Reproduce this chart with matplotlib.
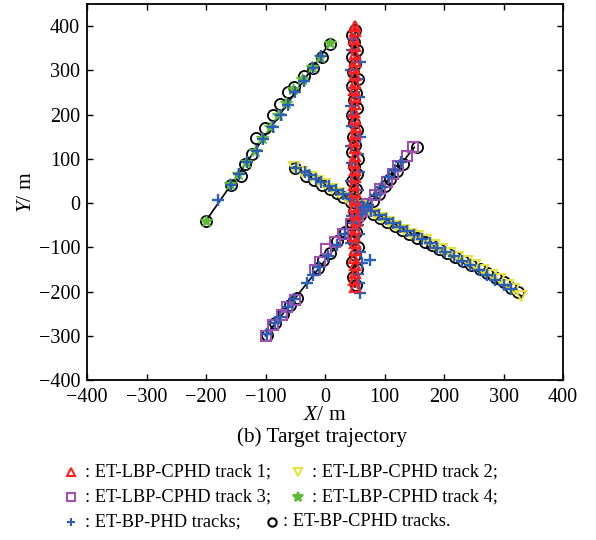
import matplotlib
matplotlib.use("Agg")
import matplotlib.pyplot as plt
from matplotlib.lines import Line2D

plt.rcParams['font.family'] = ['Liberation Serif', 'DejaVu Serif']
plt.rcParams['mathtext.fontset'] = 'custom'
plt.rcParams['mathtext.it'] = 'Liberation Serif:italic'
plt.rcParams['mathtext.rm'] = 'Liberation Serif'
plt.rcParams['axes.unicode_minus'] = True

# ---------------- data ----------------
# ground-truth straight tracks (start/end points)
truth1_x = [50, 50];    truth1_y = [-190, 400]
truth2_x = [-52, 330];  truth2_y = [82, -210]
truth3_x = [-100, 150]; truth3_y = [-300, 126]
truth4_x = [-200, 8];   truth4_y = [-40, 362]

# ET-LBP-CPHD track 1 (red triangles)
t1_x = [50, 49, 51, 50, 48, 50, 51, 49, 50, 52, 50, 49, 51, 50, 48, 50, 51, 49, 50,
        51, 49, 50, 52, 50, 49, 51, 50, 48, 50, 51, 49, 50, 51, 50, 49, 50, 50]
t1_y = [-190, -173, -157, -140, -124, -107, -91, -74, -58, -41, -25, -8, 8, 25, 41,
        58, 74, 91, 107, 124, 140, 157, 173, 190, 206, 223, 239, 256, 272, 289, 305,
        322, 338, 355, 371, 388, 400]

# ET-LBP-CPHD track 2 (yellow down-triangles)
t2_x = [-52, -38, -24, -12, 0, 12, 24, 36, 48, 60, 72, 84, 96, 108, 120, 132, 144,
        157, 170, 183, 196, 210, 224, 238, 252, 266, 280, 294, 308, 318, 330]
t2_y = [82, 70, 60, 50, 42, 31, 22, 12, 3, -6, -16, -24, -33, -43, -51, -61, -69,
        -75, -84, -94, -103, -113, -122, -132, -141, -152, -162, -172, -186, -195, -210]

# ET-LBP-CPHD track 3 (purple squares)
t3_x = [-100, -87, -72, -64, -50, -17, -8, 2, 17, 30, 44, 56, 62, 71, 84, 92, 104,
        114, 123, 138, 148]
t3_y = [-300, -276, -253, -235, -219, -151, -133, -103, -89, -71, -48, -30, -19, -3,
        19, 31, 47, 65, 83, 106, 126]

# ET-LBP-CPHD track 4 (green stars)
t4_x = [-200, -160, -147, -133, -118, -106, -92, -79, -66, -53, -38, -22, -8, 8]
t4_y = [-40, 42, 66, 92, 118, 146, 172, 199, 226, 258, 280, 307, 330, 362]

# ET-BP-PHD tracks (blue plus)
bp_x = [59, 57, 56, 62, 75, 58, 44, 57, 55, 45, 58, 46, 55, 43, 57, 46, 56, 44, 58,
        45, 47, 44, 57, 46, 56, 44, 58, 45, 47,
        -48, -34, -27, -15, -6, 6, 18, 30, 42, 54, 66, 78, 90, 102, 114, 126, 138,
        150, 163, 176, 189, 202, 216, 230, 244, 258, 272, 286, 300, 312,
        -98, -84, -75, -62, -52, -30, -20, -10, 5, 20, 34, 48, 60, 72, 85, 96, 108,
        118, 128,
        -180, -158, -145, -131, -115, -104, -87, -74, -62, -50, -36, -20, -6]
bp_y = [-203, -180, -160, -135, -128, -110, -90, -70, -50, -30, -10, 10, 30, 50, 70,
        90, 110, 130, 150, 175, 200, 220, 240, 260, 280, 300, 320, 345, 370,
        80, 70, 64, 54, 47, 38, 29, 20, 11, 2, -8, -18, -27, -36, -45, -54, -63,
        -72, -82, -91, -101, -110, -120, -131, -141, -152, -162, -173, -185, -194,
        -297, -272, -257, -235, -217, -180, -162, -145, -120, -94, -70, -45, -25, -4,
        18, 37, 58, 75, 92,
        8, 40, 66, 92, 118, 145, 171, 200, 222, 252, 275, 305, 332]

# ET-BP-CPHD tracks (black circles)
bc_x = [52, 47, 53, 46, 51, 55, 47, 52, 45, 54, 49, 56, 47, 52, 46, 53, 48, 55, 46,
        51, 47, 54, 49, 45, 53, 48, 52, 46, 55, 47, 51, 45, 53, 48, 46, 50,
        -50, -32, -18, -5, 8, 20, 30, 44, 56, 66, 80, 92, 104, 117, 130, 142, 155,
        168, 180, 192, 205, 218, 232, 246, 260, 273, 288, 300, 313, 324,
        -98, -84, -70, -58, -47, -12, -4, 8, 20, 33, 46, 58, 68, 80, 90, 100, 110,
        121, 131, 155,
        -200, -158, -142, -134, -123, -116, -101, -88, -75, -62, -52, -35, -20, -5, 8]
bc_y = [-185, -168, -150, -133, -117, -100, -84, -66, -50, -34, -18, 0, 16, 32, 49,
        66, 83, 99, 115, 132, 149, 165, 182, 198, 215, 232, 248, 264, 281, 297, 314,
        330, 347, 363, 380, 392,
        80, 62, 52, 41, 32, 23, 13, 3, -5, -15, -25, -33, -43, -51, -61, -69, -78,
        -87, -95, -104, -113, -121, -131, -140, -150, -159, -169, -178, -191, -201,
        -298, -272, -250, -230, -215, -147, -128, -113, -85, -66, -44, -27, -12, 4,
        20, 38, 55, 72, 88, 126,
        -40, 40, 62, 88, 112, 148, 170, 198, 224, 250, 262, 288, 306, 330, 360]

x_ticks = [-400, -300, -200, -100, 0, 100, 200, 300, 400]
y_ticks = [-400, -300, -200, -100, 0, 100, 200, 300, 400]

legend_labels = [": ET-LBP-CPHD track 1;", ": ET-LBP-CPHD track 2;",
                 ": ET-LBP-CPHD track 3;", ": ET-LBP-CPHD track 4;",
                 ": ET-BP-PHD tracks;", ": ET-BP-CPHD tracks."]

RED = "#ff1f1f"
YEL = "#e6e23c"
PUR = "#a34fb0"
GRN = "#5dbb34"
BLU = "#2b5fb4"

# ---------------- figure ----------------
fig = plt.figure(figsize=(5.96, 5.40), dpi=100)
ax = fig.add_axes([87/596, 1 - 380/540, (563 - 87)/596, (380 - 4)/540])

for tx, ty in [(truth1_x, truth1_y), (truth2_x, truth2_y),
               (truth3_x, truth3_y), (truth4_x, truth4_y)]:
    ax.plot(tx, ty, color='black', lw=1.2, zorder=1)

ax.plot(bc_x, bc_y, ls='none', marker='o', ms=8, mfc='none', mec='black', mew=1.3, zorder=2)
ax.plot(t2_x, t2_y, ls='none', marker='v', ms=7.5, mfc='none', mec=YEL, mew=1.5, zorder=3)
ax.plot(t3_x, t3_y, ls='none', marker='s', ms=7.5, mfc='none', mec=PUR, mew=1.5, zorder=3)
ax.plot(t4_x, t4_y, ls='none', marker='*', ms=9, mfc=GRN, mec=GRN, mew=1.0, zorder=3)
ax.plot(bp_x, bp_y, ls='none', marker='+', ms=9, mec=BLU, mew=1.7, zorder=4)
ax.plot(t1_x, t1_y, ls='none', marker='^', ms=7.5, mfc='none', mec=RED, mew=1.6, zorder=5)

ax.set_xlim(-400, 400)
ax.set_ylim(-400, 450)
ax.set_xticks(x_ticks)
ax.set_yticks(y_ticks)
ax.tick_params(direction='in', top=True, right=True, labelsize=14.5, length=4, width=1)
ax.tick_params(axis='x', pad=6)
ax.tick_params(axis='y', pad=5)
for s in ax.spines.values():
    s.set_linewidth(1.3)

ax.set_xlabel(r"$X$/ m", fontsize=15.5, labelpad=-1)
ax.set_ylabel(r"$Y$/ m", fontsize=15.5, labelpad=2)

fig.text(322/596, 1 - 437/540, "(b) Target trajectory", fontsize=15.3,
         ha='center', va='center')

# legend drawn as figure-level markers + text
leg_items = [
    (71, 472, '^', RED, 'none', legend_labels[0], 14),
    (298, 472, 'v', YEL, 'none', legend_labels[1], 14),
    (71, 497, 's', PUR, 'none', legend_labels[2], 14),
    (298, 497, '*', GRN, GRN, legend_labels[3], 14),
    (71, 522, '+', BLU, BLU, legend_labels[4], 14),
    (272, 522, 'o', 'black', 'none', legend_labels[5], 11),
]
for px, py, mk, col, fc, lab, off in leg_items:
    fx, fy = px/596, 1 - py/540
    fig.add_artist(Line2D([fx], [fy], transform=fig.transFigure, ls='none',
                          marker=mk, ms=6 if mk != '*' else 7, mfc=fc, mec=col, mew=1.5))
    fig.text(fx + off/596, fy, lab, fontsize=13.2, ha='left', va='center')

fig.savefig("out.png", dpi=100)
